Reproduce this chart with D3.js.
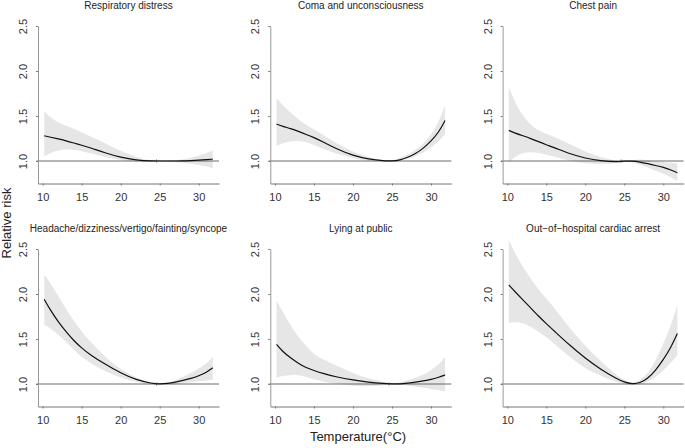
<!DOCTYPE html>
<html>
<head>
<meta charset="utf-8">
<script src="https://cdn.jsdelivr.net/npm/d3@7"></script>
<style>
  body { margin: 0; background: #fff; }
  svg { font-family: "Liberation Sans", Arial, Helvetica, sans-serif; }
</style>
</head>
<body>
<svg id="canvas" width="685" height="448"></svg>
<script>
// temperature grid shared by all panels
let temps = [10.2, 11, 12, 13, 14, 15, 16, 18, 20, 22, 24, 25, 26, 27, 28, 29, 30, 31, 31.8]

let titles = ['Respiratory distress', 'Coma and unconsciousness', 'Chest pain',
              'Headache/dizziness/vertigo/fainting/syncope', 'Lying at public', 'Out\u2212of\u2212hospital cardiac arrest']

let respFit = [1.28, 1.265, 1.245, 1.225, 1.20, 1.175, 1.15, 1.09, 1.04, 1.01, 1.0, 1.0, 1.0, 1.0, 1.0, 1.005, 1.01, 1.015, 1.02]
let respLo  = [1.05, 1.09, 1.12, 1.13, 1.125, 1.11, 1.09, 1.04, 1.01, 0.99, 0.995, 1.0, 0.995, 0.99, 0.98, 0.97, 0.955, 0.94, 0.92]
let respHi  = [1.55, 1.48, 1.43, 1.39, 1.36, 1.32, 1.28, 1.20, 1.11, 1.04, 1.005, 1.0, 1.005, 1.01, 1.02, 1.035, 1.06, 1.09, 1.12]

let comaFit = [1.41, 1.385, 1.36, 1.33, 1.295, 1.26, 1.22, 1.13, 1.06, 1.02, 1.0, 1.0, 1.01, 1.04, 1.08, 1.14, 1.22, 1.32, 1.45]
let comaLo  = [1.17, 1.20, 1.22, 1.225, 1.21, 1.18, 1.14, 1.08, 1.03, 0.995, 1.0, 0.99, 1.0, 1.02, 1.05, 1.09, 1.15, 1.22, 1.30]
let comaHi  = [1.70, 1.62, 1.54, 1.46, 1.40, 1.35, 1.30, 1.19, 1.10, 1.04, 1.0, 1.01, 1.03, 1.07, 1.12, 1.19, 1.29, 1.43, 1.62]

let chestFit = [1.34, 1.31, 1.28, 1.25, 1.215, 1.18, 1.15, 1.08, 1.03, 1.0, 0.99, 1.0, 1.0, 0.99, 0.97, 0.95, 0.93, 0.90, 0.87]
let chestLo  = [0.98, 1.05, 1.09, 1.10, 1.09, 1.07, 1.05, 1.0, 0.975, 0.96, 0.975, 1.0, 0.985, 0.96, 0.93, 0.89, 0.86, 0.82, 0.78]
let chestHi  = [1.82, 1.65, 1.50, 1.40, 1.34, 1.30, 1.27, 1.19, 1.10, 1.04, 1.0, 1.0, 1.01, 1.02, 1.01, 1.0, 0.99, 0.98, 0.97]

let headFit = [1.94, 1.82, 1.69, 1.58, 1.48, 1.40, 1.33, 1.22, 1.12, 1.045, 1.005, 1.0, 1.005, 1.02, 1.04, 1.06, 1.09, 1.13, 1.18]
let headLo  = [1.66, 1.62, 1.55, 1.47, 1.38, 1.30, 1.24, 1.14, 1.07, 1.02, 0.995, 1.0, 0.995, 1.0, 1.01, 1.02, 1.03, 1.04, 1.05]
let headHi  = [2.22, 2.12, 1.98, 1.83, 1.70, 1.58, 1.48, 1.30, 1.16, 1.07, 1.01, 1.0, 1.015, 1.04, 1.08, 1.12, 1.17, 1.23, 1.30]

let lyingFit = [1.44, 1.36, 1.29, 1.23, 1.18, 1.15, 1.12, 1.075, 1.045, 1.02, 1.005, 1.0, 1.0, 1.01, 1.02, 1.035, 1.05, 1.075, 1.10]
let lyingLo  = [1.07, 1.09, 1.10, 1.10, 1.08, 1.05, 1.03, 1.0, 0.98, 0.97, 0.985, 1.0, 0.99, 0.985, 0.97, 0.96, 0.945, 0.93, 0.92]
let lyingHi  = [1.93, 1.80, 1.65, 1.52, 1.42, 1.33, 1.28, 1.20, 1.12, 1.06, 1.02, 1.0, 1.02, 1.04, 1.07, 1.10, 1.15, 1.22, 1.30]

let ohcaFit = [2.10, 2.025, 1.935, 1.845, 1.755, 1.67, 1.59, 1.43, 1.285, 1.16, 1.06, 1.02, 1.0, 1.01, 1.06, 1.15, 1.27, 1.41, 1.56]
let ohcaLo  = [1.68, 1.69, 1.68, 1.64, 1.58, 1.52, 1.45, 1.30, 1.17, 1.09, 1.02, 1.0, 0.99, 0.99, 1.02, 1.08, 1.15, 1.24, 1.32]
let ohcaHi  = [2.60, 2.45, 2.30, 2.17, 2.05, 1.95, 1.85, 1.62, 1.42, 1.25, 1.10, 1.04, 1.0, 1.04, 1.12, 1.25, 1.45, 1.65, 1.88]

// little dash on the reference line (null = none visible)
let refTemps = [24.6, null, 24.6, 24.6, 24.6, null]

let xTicks = [10, 15, 20, 25, 30]
let yTicks = [1.0, 1.5, 2.0, 2.5]

let fits = [respFit, comaFit, chestFit, headFit, lyingFit, ohcaFit]
let los = [respLo, comaLo, chestLo, headLo, lyingLo, ohcaLo]
let his = [respHi, comaHi, chestHi, headHi, lyingHi, ohcaHi]

let canvas = d3.select('#canvas')

let drawPanel = (i) => {
    let col = i % 3, row = Math.floor(i / 3)
    let left = 38 + col * 232.3
    let top = 26 + row * 223

    let x = d3.scaleLinear().domain([9.4, 32.6]).range([left, left + 181])
    let y = d3.scaleLinear().domain([0.75, 2.5]).range([top + 157.5, top])

    let pts = temps.map((t, j) => ({t: t, fit: fits[i][j], lo: los[i][j], hi: his[i][j]}))

    let g = canvas.append('g')

    g.append('path')
        .datum(pts)
        .attr('fill', '#e6e6e6')
        .attr('d', d3.area().curve(d3.curveBasis)
            .x(d => x(d.t)).y0(d => y(d.lo)).y1(d => y(d.hi)))

    g.append('line')
        .attr('x1', x(9.2)).attr('x2', x(32.6))
        .attr('y1', y(1)).attr('y2', y(1))
        .attr('stroke', '#444').attr('stroke-width', 0.8)

    g.append('path')
        .datum(pts)
        .attr('fill', 'none')
        .attr('stroke', '#111')
        .attr('stroke-width', 1.2)
        .attr('d', d3.line().curve(d3.curveBasis)
            .x(d => x(d.t)).y(d => y(d.fit)))

    if (refTemps[i] != null) {
        g.append('line')
            .attr('x1', x(refTemps[i])).attr('x2', x(refTemps[i]))
            .attr('y1', y(1) - 1.5).attr('y2', y(1) + 1.5)
            .attr('stroke', '#444').attr('stroke-width', 0.8)
    }

    // y axis
    let yAxis = g.append('g')
        .attr('transform', `translate(${left},0)`)
        .call(d3.axisLeft(y).tickValues(yTicks).tickSize(2).tickSizeOuter(0).tickFormat(d3.format('.1f')))
    yAxis.select('.domain').attr('stroke', '#999')
    yAxis.selectAll('.tick line').attr('stroke', '#777')
    yAxis.selectAll('.tick text')
        .attr('transform', 'rotate(-90)')
        .attr('x', 0).attr('y', -11).attr('dy', 0)
        .attr('text-anchor', 'middle')
        .attr('font-size', 11).attr('fill', '#333')

    // x axis
    let xAxis = g.append('g')
        .attr('transform', `translate(0,${top + 157.5})`)
        .call(d3.axisBottom(x).tickValues(xTicks).tickSize(2).tickSizeOuter(0).tickPadding(7.5))
    xAxis.select('.domain').attr('stroke', '#777')
    xAxis.selectAll('.tick line').attr('stroke', '#777')
    xAxis.selectAll('.tick text').attr('font-size', 11).attr('fill', '#333')

    g.append('text')
        .attr('x', left + 90.5).attr('y', 8.5 + row * 223)
        .attr('text-anchor', 'middle')
        .attr('font-size', 10).attr('fill', '#222')
        .text(titles[i])
}

titles.forEach((t, i) => drawPanel(i))

canvas.append('text')
    .attr('transform', 'translate(11,223) rotate(-90)')
    .attr('text-anchor', 'middle')
    .attr('font-size', 13).attr('fill', '#222')
    .text('Relative risk')

canvas.append('text')
    .attr('x', 358).attr('y', 441)
    .attr('text-anchor', 'middle')
    .attr('font-size', 13).attr('fill', '#222')
    .text('Temperature(\u00B0C)')
</script>
</body>
</html>
